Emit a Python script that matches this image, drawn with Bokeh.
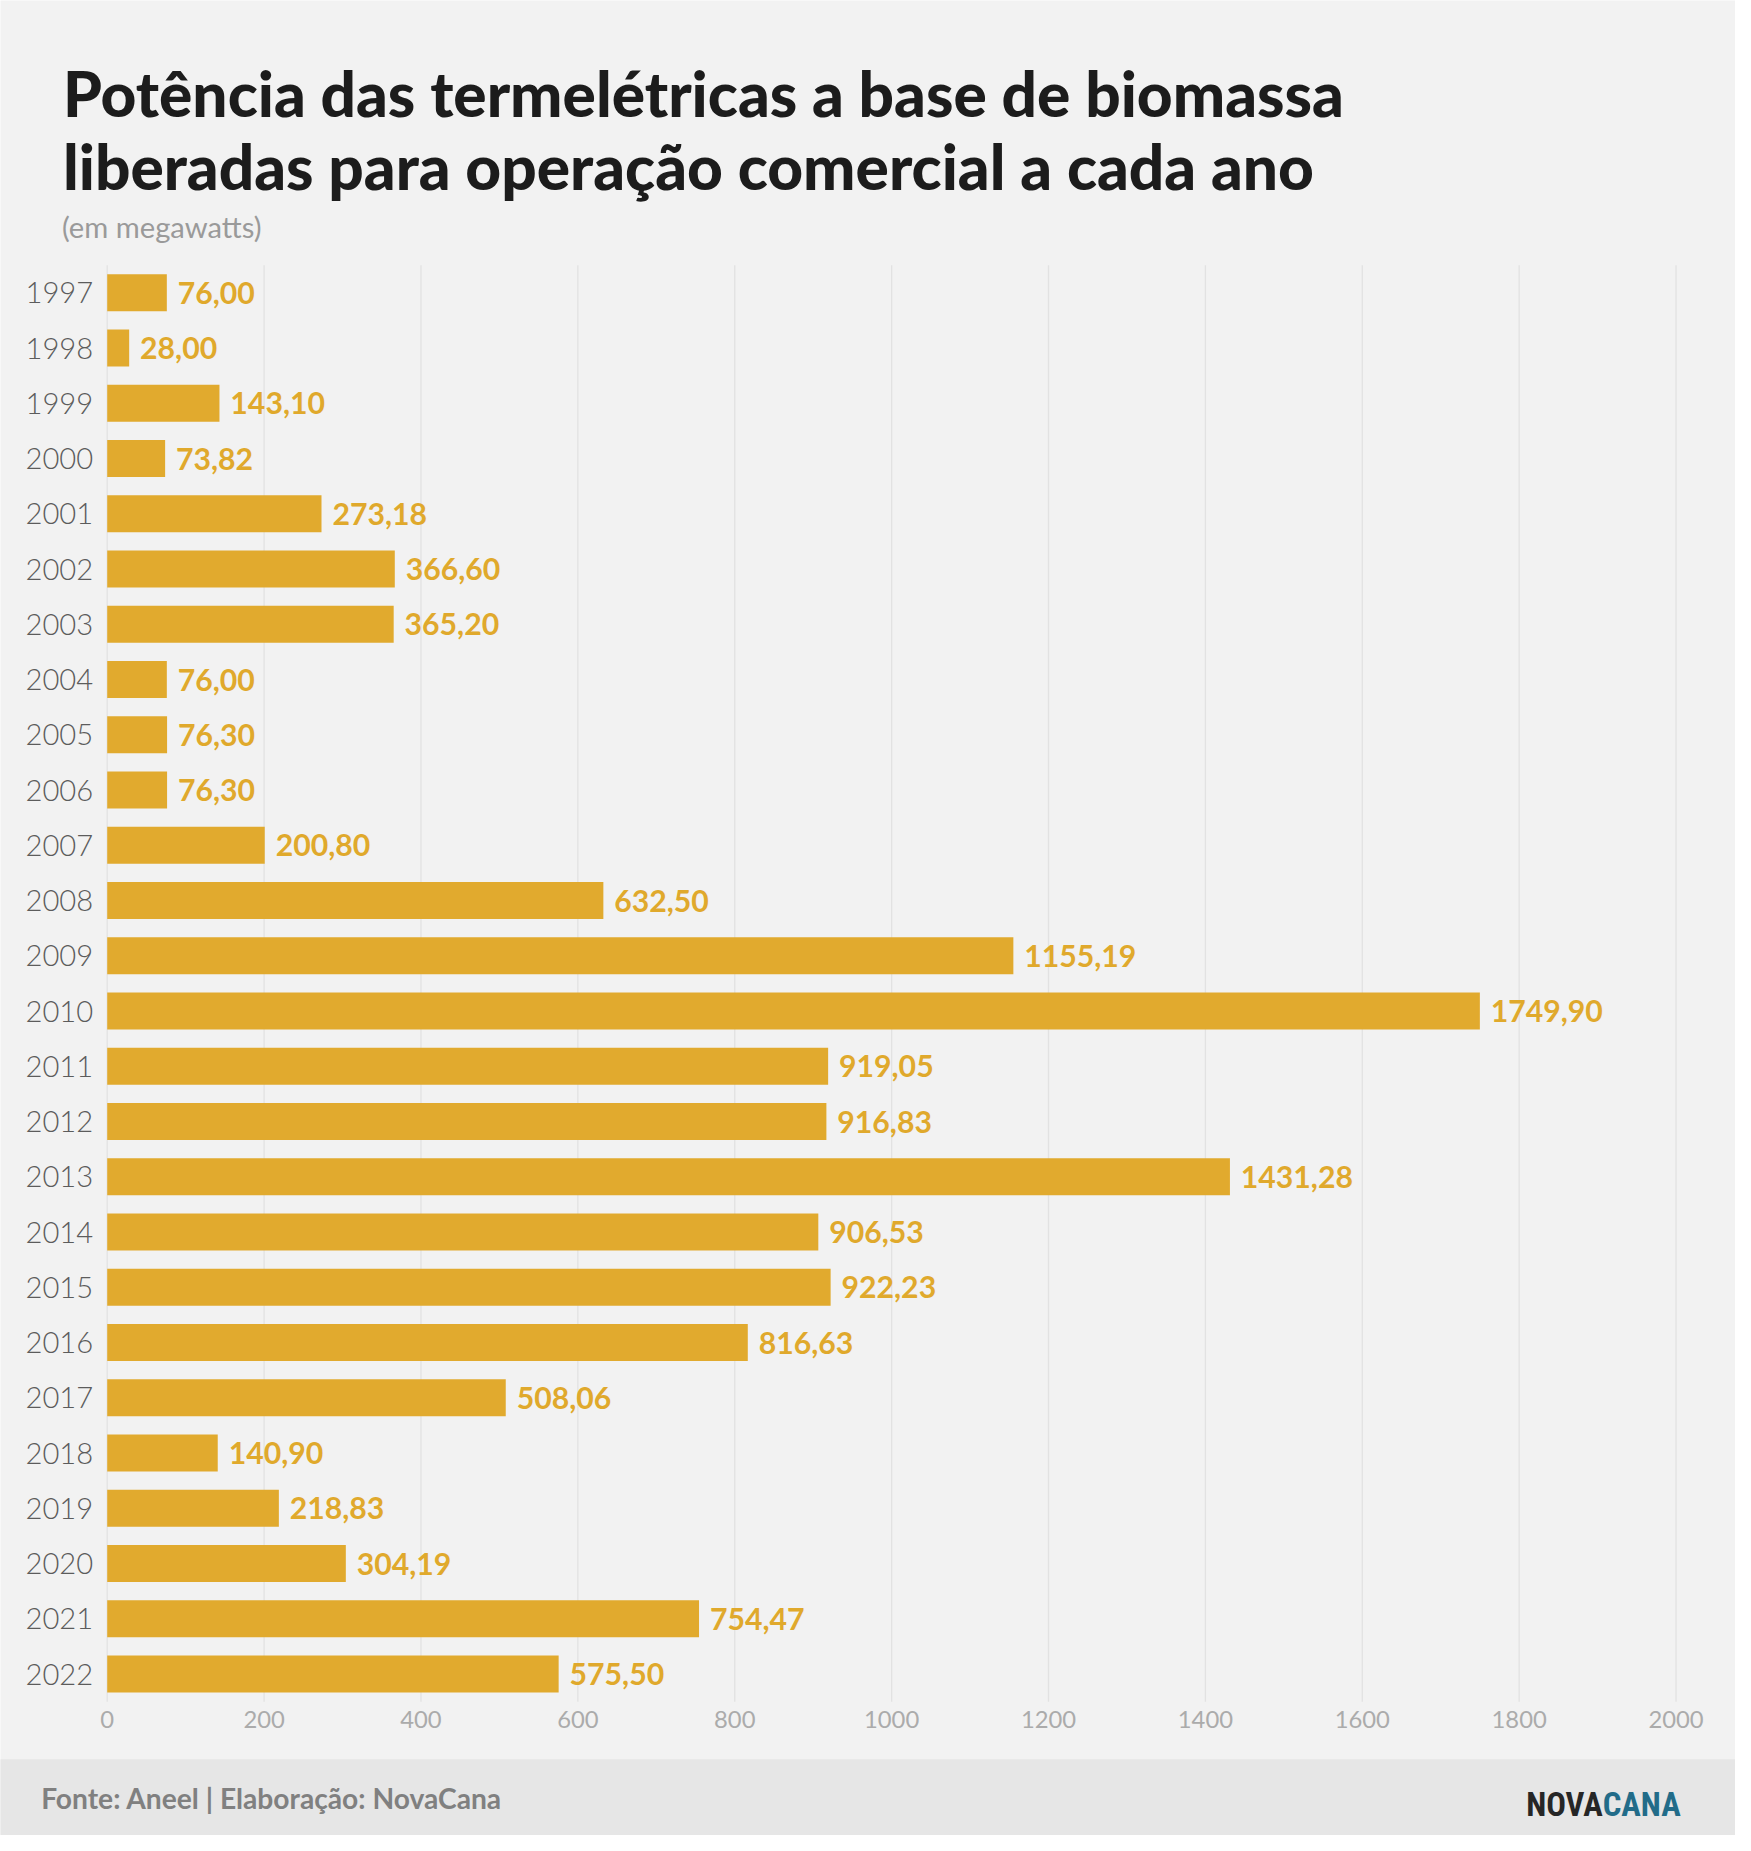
from bokeh.plotting import figure
from bokeh.models import Range1d, Label, FixedTicker, ColumnDataSource, BoxAnnotation
from bokeh.core.properties import value
from bokeh.embed import file_html
from bokeh.resources import INLINE

# ---- data ----
years = ["1997", "1998", "1999", "2000", "2001", "2002", "2003", "2004", "2005",
         "2006", "2007", "2008", "2009", "2010", "2011", "2012", "2013", "2014",
         "2015", "2016", "2017", "2018", "2019", "2020", "2021", "2022"]
megawatts = [76.00, 28.00, 143.10, 73.82, 273.18, 366.60, 365.20, 76.00, 76.30,
             76.30, 200.80, 632.50, 1155.19, 1749.90, 919.05, 916.83, 1431.28, 906.53,
             922.23, 816.63, 508.06, 140.90, 218.83, 304.19, 754.47, 575.50]
x_ticks = [0, 200, 400, 600, 800, 1000, 1200, 1400, 1600, 1800, 2000]
title_lines = ["Potência das termelétricas a base de biomassa",
               "liberadas para operação comercial a cada ano"]
subtitle = "(em megawatts)"
source_note = "Fonte: Aneel | Elaboração: NovaCana"
logo_parts = ["NOVA", "CANA"]

# ---- layout (design grid 1751 x 1851, scaled onto the canvas) ----
W, H = 1735, 1835
REF_W, REF_H = 1751, 1851
S = W / REF_W
BG = "#f2f2f2"
FOOT_BG = "#e6e6e6"
BAR = "#e1aa2e"
LABEL_C = "#e0a92c"
X0, X2000 = 107.7, 1691.0        # design px of value 0 and 2000
TOP, BOTTOM = 267.0, 1716.0      # design px of plot rows area
XMAX = 2000
NROWS = len(years)
PXU = (X2000 - X0) / XMAX
RH = (BOTTOM - TOP) / NROWS

def XV(px):
    return (px - X0) / PXU

def YV(py):
    return (py - TOP) / RH - 0.5

def fs(px):
    return f"{px * S:.1f}px"

rows = list(range(NROWS))
labels = [f"{v:.2f}".replace(".", ",") for v in megawatts]
src = ColumnDataSource(dict(row=rows, mw=megawatts, lab=labels))

p = figure(width=W, height=H,
           x_range=Range1d(XV(0), XV(REF_W)),
           y_range=Range1d(YV(REF_H), YV(0)),
           output_backend="svg", toolbar_location=None, min_border=0,
           background_fill_color=BG, border_fill_color=BG,
           outline_line_color=None)

# footer band
p.add_layout(BoxAnnotation(left=XV(-100), right=XV(REF_W + 100), top=YV(1774), bottom=YV(REF_H + 100),
                           fill_color=FOOT_BG, fill_alpha=1, line_color=None, level="underlay"))

# vertical grid lines at the ticks
p.segment(x0=x_ticks, x1=x_ticks, y0=[YV(TOP)] * len(x_ticks), y1=[YV(BOTTOM)] * len(x_ticks),
          line_color="#e2e2e2", line_width=1.3)

p.hbar(y="row", left=0, right="mw", height=0.67, source=src,
       fill_color=BAR, line_color=None)
p.text(x="mw", y="row", text="lab", source=src, x_offset=11 * S,
       text_baseline="middle", text_align="left",
       text_font=value("Lato"), text_font_style="bold",
       text_font_size=fs(30.5), text_color=LABEL_C)

# axes, drawn inside the full-canvas frame
p.xgrid.visible = False
p.ygrid.visible = False

xa = p.xaxis[0]
xa.fixed_location = YV(BOTTOM)
xa.ticker = FixedTicker(ticks=x_ticks)
xa.axis_line_color = None
xa.major_tick_line_color = None
xa.minor_tick_line_color = None
xa.major_tick_out = 0
xa.major_tick_in = 0
xa.major_label_text_font = "Lato"
xa.major_label_text_font_size = fs(24)
xa.major_label_text_color = "#ababab"
xa.major_label_standoff = 9

ya = p.yaxis[0]
ya.fixed_location = 0
ya.ticker = FixedTicker(ticks=rows)
ya.major_label_overrides = {r: y for r, y in zip(rows, years)}
ya.axis_line_color = None
ya.major_tick_line_color = None
ya.minor_tick_line_color = None
ya.major_tick_out = 0
ya.major_tick_in = 0
ya.major_label_text_font = "Lato Light, Lato"
ya.major_label_text_font_size = fs(29.5)
ya.major_label_text_color = "#5c5c5c"
ya.major_label_standoff = 14

def add_label(px, py, text, size, **kw):
    p.add_layout(Label(x=XV(px), y=YV(py), text=text, text_baseline="alphabetic",
                       text_font_size=fs(size), **kw))

add_label(63, 93, title_lines[0], 62.8, text_font="Lato Black, Lato", text_font_style="normal",
          text_color="#1c1c1c")
add_label(63, 166.5, title_lines[1], 62.8, text_font="Lato Black, Lato", text_font_style="normal",
          text_color="#1c1c1c")
add_label(62, 228, subtitle, 29.5, text_font="Lato", text_color="#9a9a9a")
add_label(41, 1813, source_note, 28.5, text_font="Lato", text_font_style="bold",
          text_color="#808080")
LOGO_FONT = "Roboto Condensed, DejaVu Sans Condensed, Roboto"
add_label(1617, 1820, logo_parts[0], 33, text_font=LOGO_FONT, text_font_style="bold",
          text_color="#262626", text_align="right")
add_label(1617, 1820, logo_parts[1], 33, text_font=LOGO_FONT, text_font_style="bold",
          text_color="#226c89", text_align="left")

open("out.html", "w").write(file_html(p, INLINE))
